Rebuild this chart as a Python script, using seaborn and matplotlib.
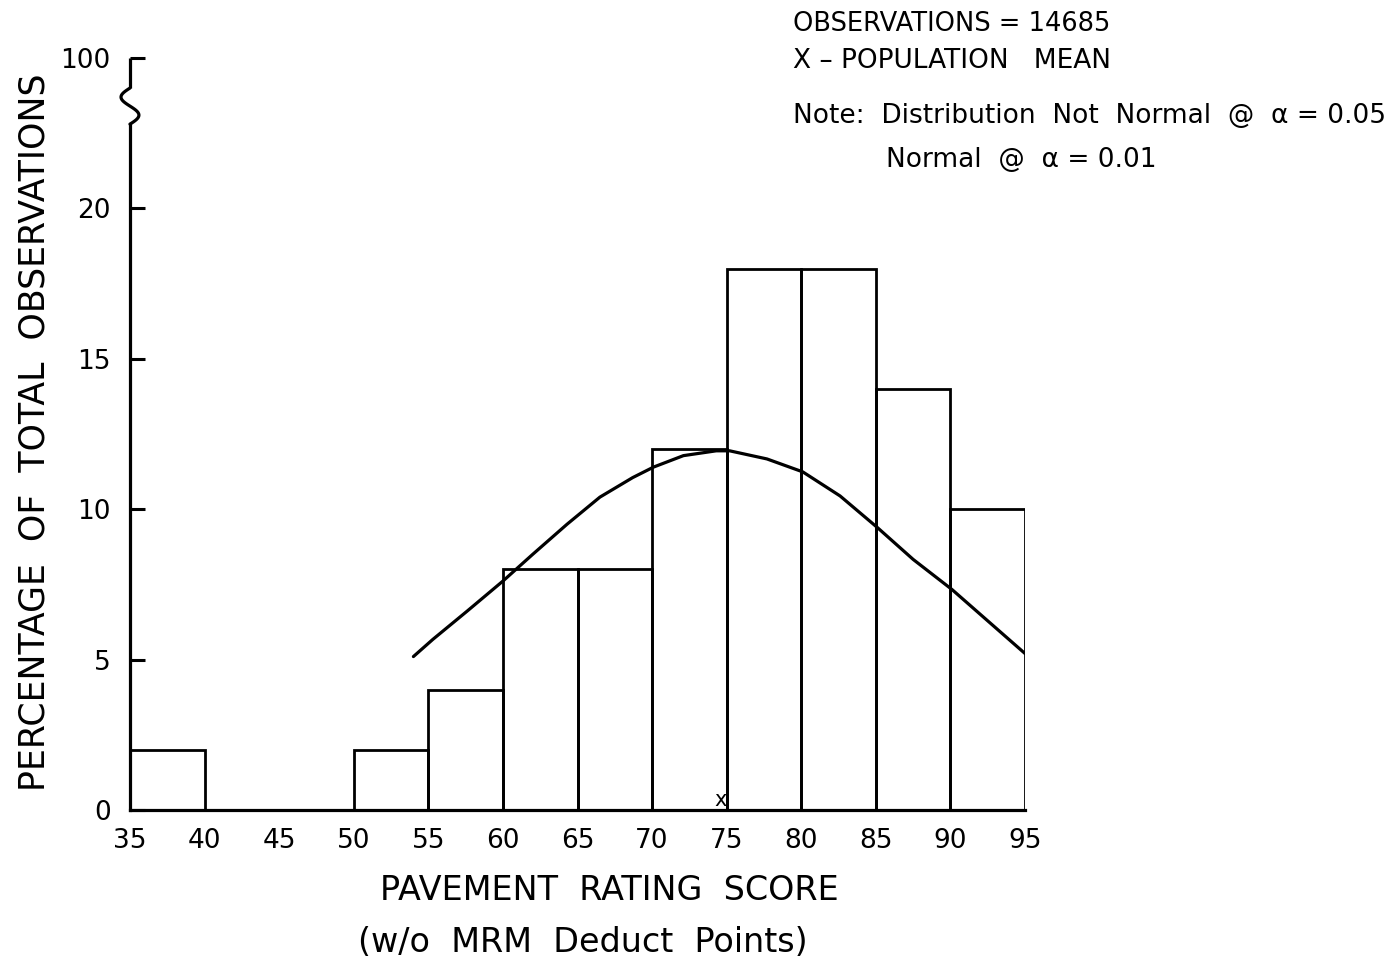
import numpy as np
import pandas as pd
import seaborn as sns
import matplotlib.pyplot as plt

# histogram data (percent of total observations per 5-point bin)
bin_edges = [35, 40, 45, 50, 55, 60, 65, 70, 75, 80, 85, 90, 95]
bin_pct = [2, 0, 0, 2, 4, 8, 8, 12, 18, 18, 14, 10]

# fitted normal curve
curve_x = [54, 55.3, 57.6, 60, 62, 64.3, 66.5, 68.7, 70.1, 72.1, 74.3, 75.2,
           77.7, 80.1, 82.6, 85.1, 87.5, 90.1, 92.4, 95]
curve_y = [5.1, 5.67, 6.61, 7.61, 8.5, 9.5, 10.4, 11.05, 11.4, 11.78, 11.94, 11.94,
           11.67, 11.24, 10.44, 9.39, 8.33, 7.33, 6.33, 5.2]

# y axis is broken: 100 is drawn where 25 would be
ytick_pos = [0, 5, 10, 15, 20, 25]
ytick_labels = ["0", "5", "10", "15", "20", "100"]
xticks = [35, 40, 45, 50, 55, 60, 65, 70, 75, 80, 85, 90, 95]
pop_mean = 74.6

sns.set_style("white")
plt.rcParams["font.family"] = ["DejaVu Sans"]
plt.rcParams["text.color"] = "black"
plt.rcParams["xtick.color"] = "black"
plt.rcParams["ytick.color"] = "black"

hist_df = pd.DataFrame({"mid": [(a + b) / 2 for a, b in zip(bin_edges[:-1], bin_edges[1:])],
                        "pct": bin_pct})
curve_df = pd.DataFrame({"x": curve_x, "y": curve_y})

fig = plt.figure(figsize=(13.99, 9.63), dpi=100)
ax = fig.add_axes([0.0929, 0.1589, 0.6398, 0.7809])

sns.histplot(data=hist_df, x="mid", weights="pct", bins=bin_edges, fill=False,
             color="black", linewidth=2, ax=ax)
sns.lineplot(data=curve_df, x="x", y="y", color="black", linewidth=2.3, ax=ax)

ax.set_xlim(35, 95)
ax.set_ylim(0, 25)
ax.set_xticks(xticks)
ax.set_xticklabels([str(t) for t in xticks], fontsize=19)
ax.set_yticks(ytick_pos)
ax.set_yticklabels(ytick_labels, fontsize=19)
ax.tick_params(axis="x", bottom=False, length=0, pad=13)
ax.tick_params(axis="y", left=True, direction="in", length=11, width=2.2, pad=14)
ax.set_xlabel("")
ax.set_ylabel("")

sns.despine(ax=ax)
for side in ["left", "bottom"]:
    ax.spines[side].set_linewidth(2.3)
    ax.spines[side].set_color("black")

# axis break squiggle between 20 and 100
ax.spines["left"].set_bounds(0, 22.8)
ax.plot([35, 35], [24, 25], color="black", linewidth=2.3, clip_on=False, solid_capstyle="butt")
t = np.linspace(0, 1, 60)
ax.plot(35 - 0.6 * np.sin(2 * np.pi * t), 24 - 1.2 * t, color="black", linewidth=2.3, clip_on=False)

# population mean mark
ax.text(pop_mean, 0.0, "x", ha="center", va="bottom", fontsize=15)

fig.text(0.025, 0.5514, "PERCENTAGE  OF  TOTAL  OBSERVATIONS", rotation=90,
         ha="center", va="center", fontsize=25)
fig.text(0.4357, 0.0758, "PAVEMENT  RATING  SCORE", ha="center", va="center", fontsize=24)
fig.text(0.4165, 0.0218, "(w/o  MRM  Deduct  Points)", ha="center", va="center", fontsize=24)

fig.text(0.5668, 0.975, "OBSERVATIONS = 14685", ha="left", va="center", fontsize=18.5)
fig.text(0.5668, 0.9367, "X – POPULATION   MEAN", ha="left", va="center", fontsize=19)
fig.text(0.5668, 0.8795, "Note:  Distribution  Not  Normal  @  α = 0.05", ha="left", va="center", fontsize=19)
fig.text(0.6333, 0.834, "Normal  @  α = 0.01", ha="left", va="center", fontsize=19)

fig.savefig("out.png", dpi=100)
